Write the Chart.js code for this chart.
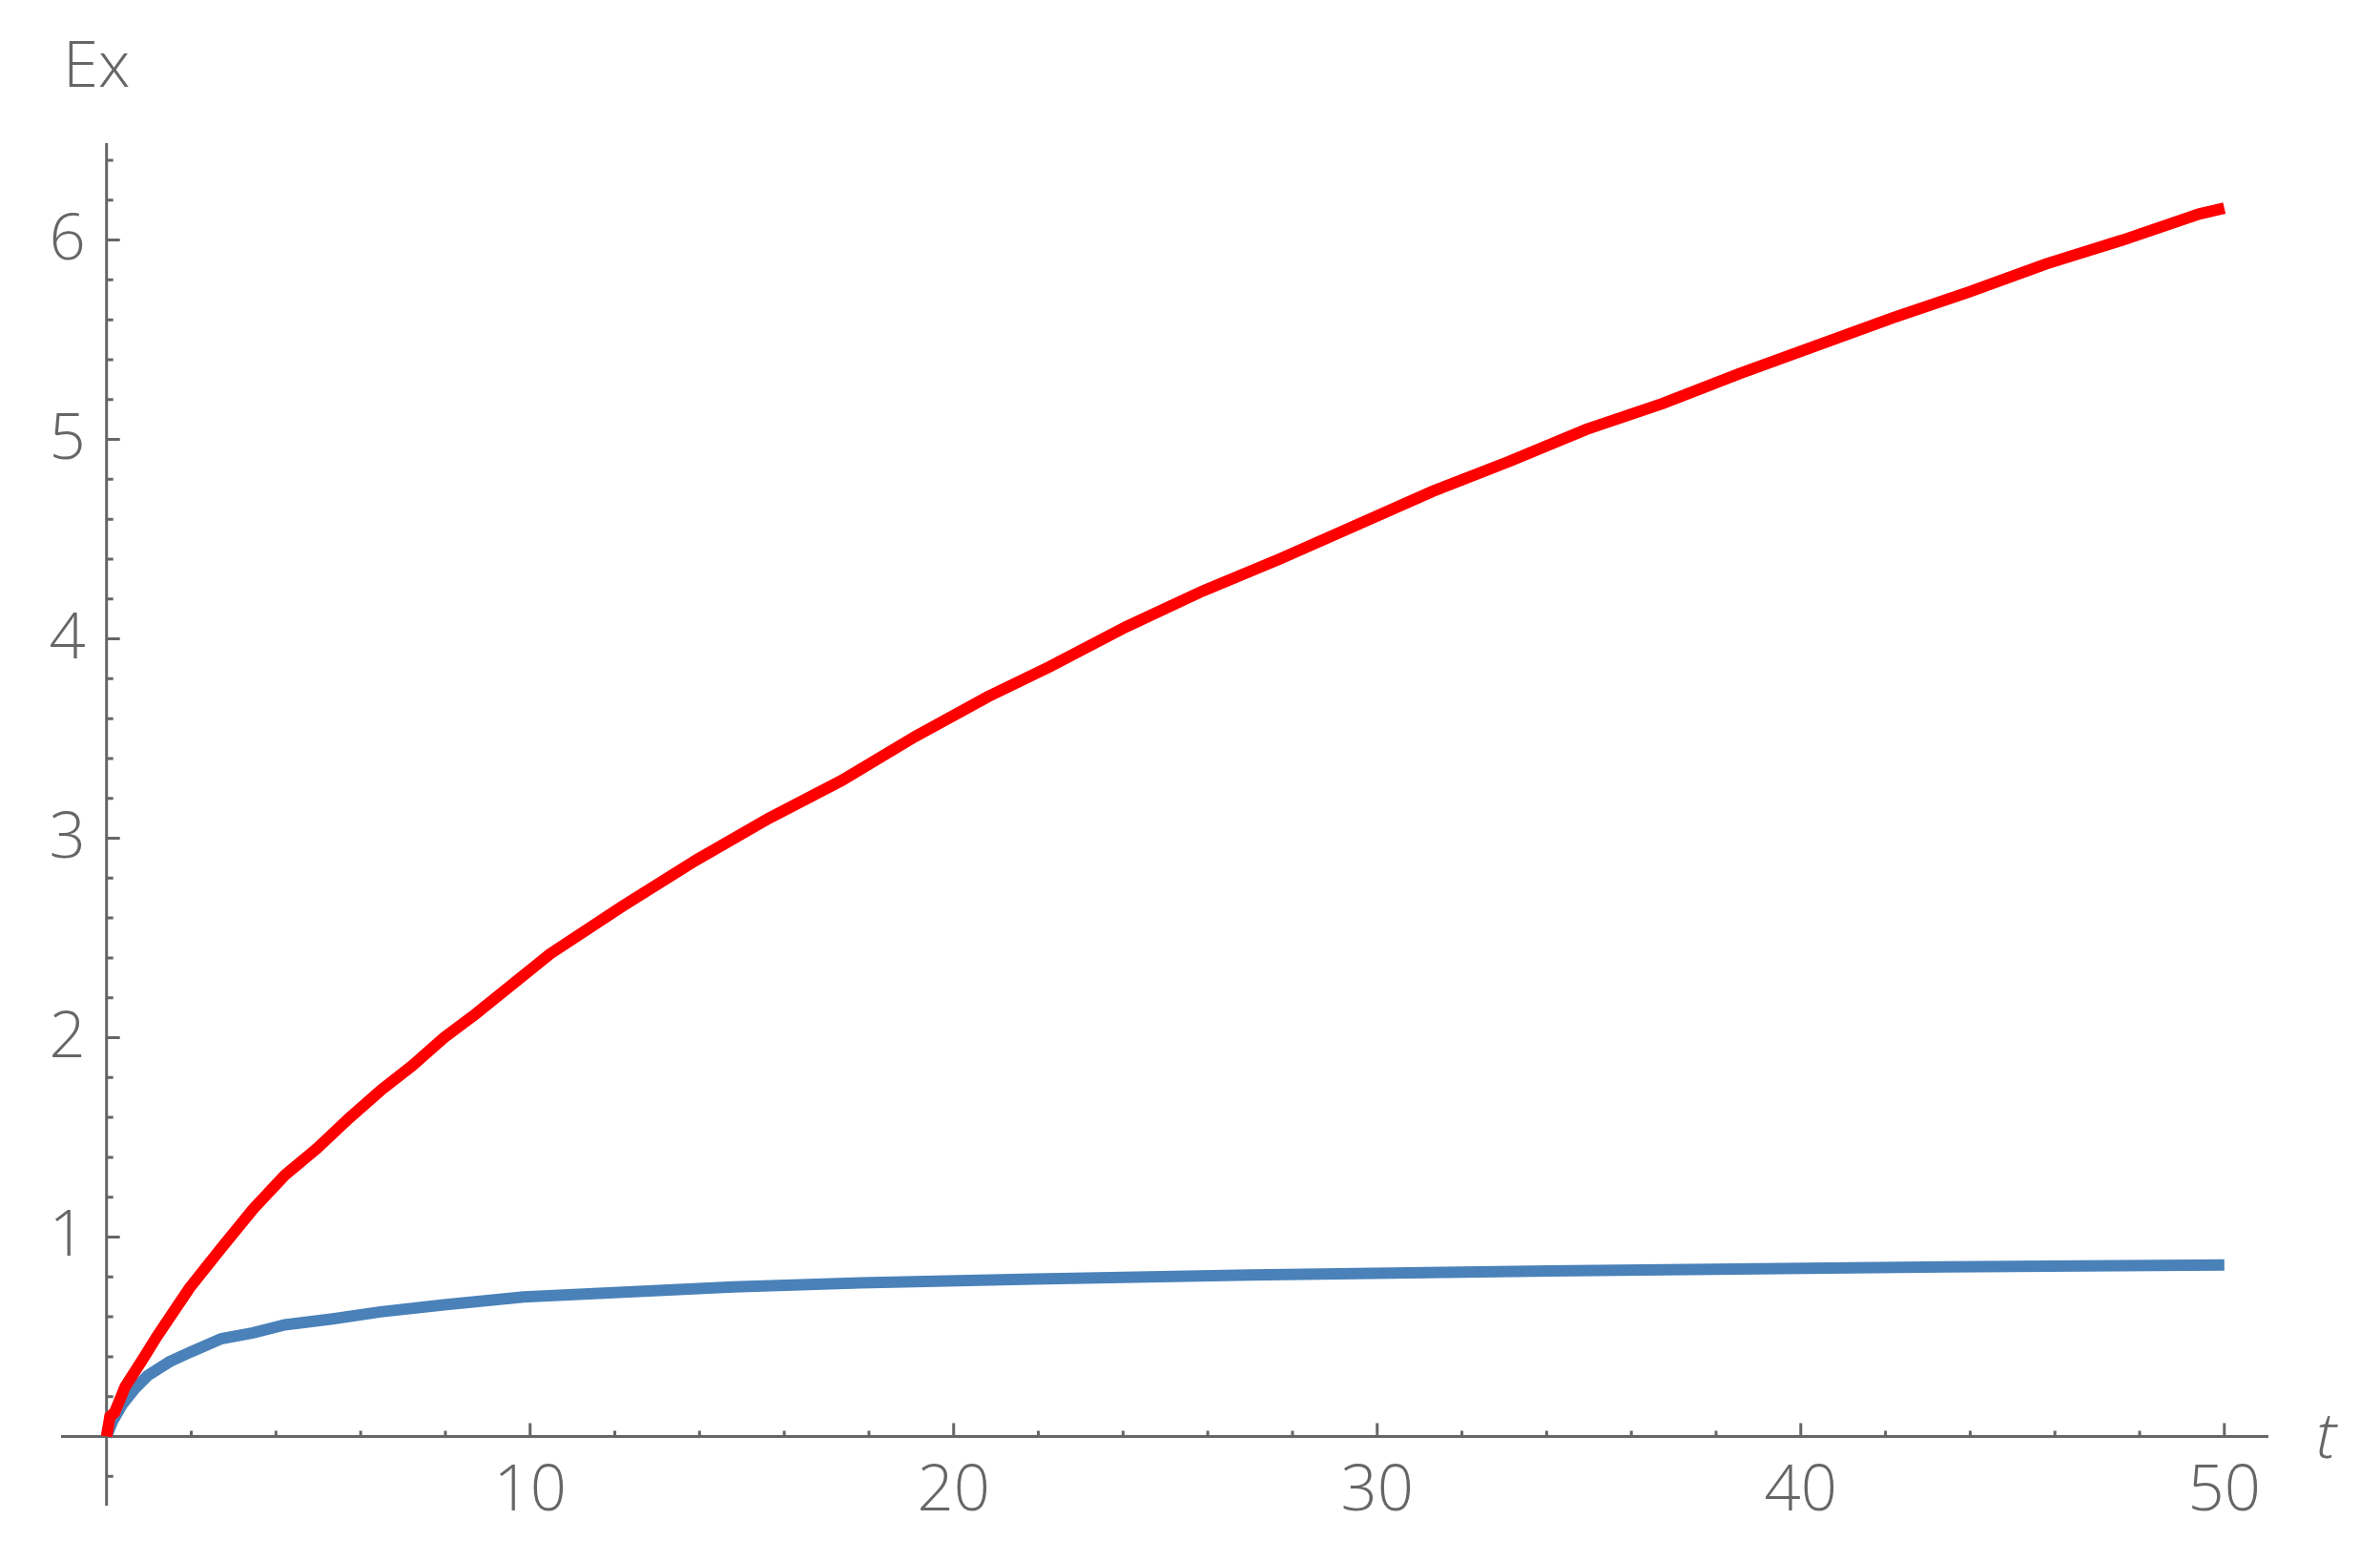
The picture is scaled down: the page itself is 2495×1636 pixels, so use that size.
<!DOCTYPE html>
<html>
<head>
<meta charset="utf-8">
<script src="https://cdn.jsdelivr.net/npm/chart.js@4"></script>
<style>
  html, body { margin: 0; padding: 0; background: #fff; }
  #wrap { width: 2495px; height: 1636px; position: relative; }
</style>
</head>
<body>
<div id="wrap"><canvas id="chart"></canvas></div>
<script>
// values
const redT  = [0, 0.08, 0.19, 0.44, 0.82, 1.2, 1.58, 1.96, 2.71, 3.46, 4.21, 4.97, 5.72, 6.47, 7.22, 7.97, 8.72,
               10.47, 12.19, 13.92, 15.64, 17.36, 19.09, 20.81, 22.26, 24.07, 25.88, 27.69, 29.5, 31.31, 33.12,
               34.93, 36.74, 38.55, 40.36, 42.17, 43.98, 45.79, 47.6, 49.4, 50];
const redEx = [0, 0.1, 0.12, 0.25, 0.375, 0.505, 0.625, 0.745, 0.945, 1.14, 1.31, 1.445, 1.595, 1.735, 1.86, 2.0, 2.12,
               2.42, 2.66, 2.89, 3.10, 3.29, 3.51, 3.71, 3.86, 4.06, 4.24, 4.40, 4.57, 4.74, 4.89,
               5.05, 5.18, 5.33, 5.47, 5.61, 5.74, 5.88, 6.00, 6.13, 6.16];

const blueT  = [0, 0.14, 0.37, 0.67, 0.97, 1.49, 2.0, 2.71, 3.46, 4.21, 5.34, 6.47, 7.97, 9.85,
                12.8, 14.8, 17.8, 21.9, 27, 34.1, 43.4, 50];
const blueEx = [0, 0.075, 0.16, 0.24, 0.305, 0.375, 0.425, 0.49, 0.52, 0.56, 0.59, 0.625, 0.66, 0.70,
                0.73, 0.75, 0.77, 0.79, 0.81, 0.83, 0.85, 0.86];

const xTickValues = [10, 20, 30, 40, 50];
const yTickValues = [1, 2, 3, 4, 5, 6];
const xTitle = 't';
const yTitle = 'Ex';

const axisColor = '#666666';
const labelColor = '#666666';
const labelFont = '300 67px "Open Sans"';

function pairs(ts, vs) {
    return ts.map((t, i) => ({ x: t, y: vs[i] }));
}

// Mathematica-style axes crossing at the origin, ticks pointing inwards
const originAxes = {
    id: 'originAxes',
    beforeDatasetsDraw(chart) {
        const ctx = chart.ctx;
        const xs = chart.scales.x, ys = chart.scales.y;
        const x0 = xs.getPixelForValue(0);
        const y0 = ys.getPixelForValue(0);

        ctx.save();
        ctx.strokeStyle = axisColor;
        ctx.lineWidth = 3;
        ctx.beginPath();
        ctx.moveTo(xs.left, y0);
        ctx.lineTo(xs.right, y0);
        ctx.moveTo(x0, ys.top);
        ctx.lineTo(x0, ys.bottom);
        ctx.stroke();

        // minor ticks
        ctx.beginPath();
        for (let k = 1; k <= 25; k++) {
            if (k % 5 === 0) continue;
            const px = xs.getPixelForValue(k * 2);
            ctx.moveTo(px, y0);
            ctx.lineTo(px, y0 - 6);
        }
        for (let k = -1; k <= 32; k++) {
            if (k % 5 === 0) continue;
            const py = ys.getPixelForValue(k * 0.2);
            ctx.moveTo(x0, py);
            ctx.lineTo(x0 + 7, py);
        }
        ctx.stroke();

        // major ticks
        ctx.beginPath();
        xTickValues.forEach(v => {
            const px = xs.getPixelForValue(v);
            ctx.moveTo(px, y0);
            ctx.lineTo(px, y0 - 14);
        });
        yTickValues.forEach(v => {
            const py = ys.getPixelForValue(v);
            ctx.moveTo(x0, py);
            ctx.lineTo(x0 + 14, py);
        });
        ctx.stroke();

        // tick labels
        ctx.fillStyle = labelColor;
        ctx.font = labelFont;
        ctx.textBaseline = 'alphabetic';
        ctx.textAlign = 'center';
        xTickValues.forEach(v => {
            ctx.fillText(String(v), xs.getPixelForValue(v), y0 + 78);
        });
        ctx.textAlign = 'right';
        yTickValues.forEach(v => {
            ctx.fillText(String(v), x0 - 22, ys.getPixelForValue(v) + 20);
        });

        // axis titles
        ctx.textAlign = 'left';
        ctx.fillText(yTitle, 66, 91);
        ctx.font = 'italic 300 67px "Open Sans"';
        ctx.fillText(xTitle, 2428, 1528);
        ctx.restore();
    }
};

const ctx = document.getElementById('chart').getContext('2d');
new Chart(ctx, {
    type: 'line',
    data: {
        datasets: [{
            label: 'red',
            data: pairs(redT, redEx),
            borderColor: '#ff0000',
            borderWidth: 12,
            pointRadius: 0,
            tension: 0,
            fill: false
        }, {
            label: 'blue',
            data: pairs(blueT, blueEx),
            borderColor: '#4a81b9',
            borderWidth: 12,
            pointRadius: 0,
            tension: 0,
            fill: false
        }]
    },
    options: {
        responsive: true,
        maintainAspectRatio: false,
        animation: false,
        layout: { padding: { left: 64, right: 117, top: 150, bottom: 58 } },
        plugins: {
            legend: { display: false },
            tooltip: { enabled: false }
        },
        scales: {
            x: { type: 'linear', min: -1.074, max: 51.04, display: false },
            y: { type: 'linear', min: -0.347, max: 6.486, display: false }
        }
    },
    plugins: [originAxes]
});
</script>
</body>
</html>
